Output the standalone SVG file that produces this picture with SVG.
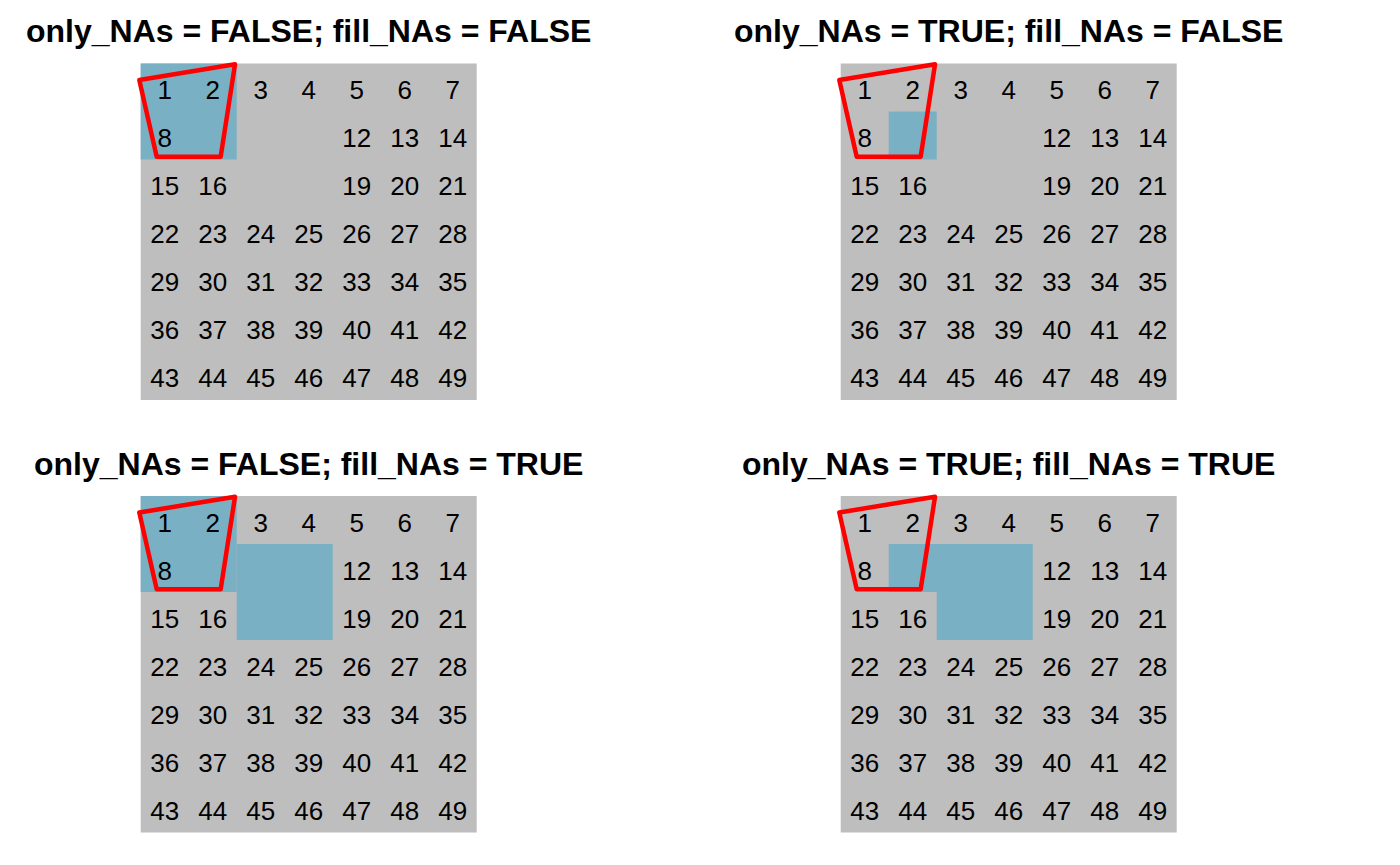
<svg xmlns="http://www.w3.org/2000/svg" width="1400" height="865" viewBox="0 0 1400 865">
<style>
.bg{fill:#BEBEBE}
.na{fill:#7AB0C4}
.t{font-family:"Liberation Sans",Arial,sans-serif;font-size:32px;font-weight:bold;text-anchor:middle;fill:#000}
.n{font-family:"Liberation Sans",Arial,sans-serif;font-size:26px;text-anchor:middle;fill:#000}
.poly{fill:none;stroke:#FF0000;stroke-width:4.5;stroke-linejoin:round}
</style>
<rect width="1400" height="865" fill="#fff"/>
<g id="panel1">
<text class="t" x="308.7" y="42.3">only_NAs = FALSE; fill_NAs = FALSE</text>
<rect class="bg" x="140.7" y="63.5" width="336" height="336.5"/>
<rect class="na" x="140.7" y="63.5" width="96" height="96"/>
<g transform="translate(0,-0.5)">
<text class="n" x="164.7" y="99.5">1</text><text class="n" x="212.7" y="99.5">2</text><text class="n" x="260.7" y="99.5">3</text><text class="n" x="308.7" y="99.5">4</text><text class="n" x="356.7" y="99.5">5</text><text class="n" x="404.7" y="99.5">6</text><text class="n" x="452.7" y="99.5">7</text>
<text class="n" x="164.7" y="147.5">8</text><text class="n" x="356.7" y="147.5">12</text><text class="n" x="404.7" y="147.5">13</text><text class="n" x="452.7" y="147.5">14</text>
<text class="n" x="164.7" y="195.5">15</text><text class="n" x="212.7" y="195.5">16</text><text class="n" x="356.7" y="195.5">19</text><text class="n" x="404.7" y="195.5">20</text><text class="n" x="452.7" y="195.5">21</text>
<text class="n" x="164.7" y="243.5">22</text><text class="n" x="212.7" y="243.5">23</text><text class="n" x="260.7" y="243.5">24</text><text class="n" x="308.7" y="243.5">25</text><text class="n" x="356.7" y="243.5">26</text><text class="n" x="404.7" y="243.5">27</text><text class="n" x="452.7" y="243.5">28</text>
<text class="n" x="164.7" y="291.5">29</text><text class="n" x="212.7" y="291.5">30</text><text class="n" x="260.7" y="291.5">31</text><text class="n" x="308.7" y="291.5">32</text><text class="n" x="356.7" y="291.5">33</text><text class="n" x="404.7" y="291.5">34</text><text class="n" x="452.7" y="291.5">35</text>
<text class="n" x="164.7" y="339.5">36</text><text class="n" x="212.7" y="339.5">37</text><text class="n" x="260.7" y="339.5">38</text><text class="n" x="308.7" y="339.5">39</text><text class="n" x="356.7" y="339.5">40</text><text class="n" x="404.7" y="339.5">41</text><text class="n" x="452.7" y="339.5">42</text>
<text class="n" x="164.7" y="387.5">43</text><text class="n" x="212.7" y="387.5">44</text><text class="n" x="260.7" y="387.5">45</text><text class="n" x="308.7" y="387.5">46</text><text class="n" x="356.7" y="387.5">47</text><text class="n" x="404.7" y="387.5">48</text><text class="n" x="452.7" y="387.5">49</text>
</g>
<polygon class="poly" points="139.3,80 235,64.3 220.7,156.7 156.7,156.7"/>
</g>
<g id="panel2" transform="translate(700,0)">
<text class="t" x="308.7" y="42.3">only_NAs = TRUE; fill_NAs = FALSE</text>
<rect class="bg" x="140.7" y="63.5" width="336" height="336.5"/>
<rect class="na" x="188.7" y="111.5" width="48" height="48"/>
<g transform="translate(0,-0.5)">
<text class="n" x="164.7" y="99.5">1</text><text class="n" x="212.7" y="99.5">2</text><text class="n" x="260.7" y="99.5">3</text><text class="n" x="308.7" y="99.5">4</text><text class="n" x="356.7" y="99.5">5</text><text class="n" x="404.7" y="99.5">6</text><text class="n" x="452.7" y="99.5">7</text>
<text class="n" x="164.7" y="147.5">8</text><text class="n" x="356.7" y="147.5">12</text><text class="n" x="404.7" y="147.5">13</text><text class="n" x="452.7" y="147.5">14</text>
<text class="n" x="164.7" y="195.5">15</text><text class="n" x="212.7" y="195.5">16</text><text class="n" x="356.7" y="195.5">19</text><text class="n" x="404.7" y="195.5">20</text><text class="n" x="452.7" y="195.5">21</text>
<text class="n" x="164.7" y="243.5">22</text><text class="n" x="212.7" y="243.5">23</text><text class="n" x="260.7" y="243.5">24</text><text class="n" x="308.7" y="243.5">25</text><text class="n" x="356.7" y="243.5">26</text><text class="n" x="404.7" y="243.5">27</text><text class="n" x="452.7" y="243.5">28</text>
<text class="n" x="164.7" y="291.5">29</text><text class="n" x="212.7" y="291.5">30</text><text class="n" x="260.7" y="291.5">31</text><text class="n" x="308.7" y="291.5">32</text><text class="n" x="356.7" y="291.5">33</text><text class="n" x="404.7" y="291.5">34</text><text class="n" x="452.7" y="291.5">35</text>
<text class="n" x="164.7" y="339.5">36</text><text class="n" x="212.7" y="339.5">37</text><text class="n" x="260.7" y="339.5">38</text><text class="n" x="308.7" y="339.5">39</text><text class="n" x="356.7" y="339.5">40</text><text class="n" x="404.7" y="339.5">41</text><text class="n" x="452.7" y="339.5">42</text>
<text class="n" x="164.7" y="387.5">43</text><text class="n" x="212.7" y="387.5">44</text><text class="n" x="260.7" y="387.5">45</text><text class="n" x="308.7" y="387.5">46</text><text class="n" x="356.7" y="387.5">47</text><text class="n" x="404.7" y="387.5">48</text><text class="n" x="452.7" y="387.5">49</text>
</g>
<polygon class="poly" points="139.3,80 235,64.3 220.7,156.7 156.7,156.7"/>
</g>
<g id="panel3" transform="translate(0,432.5)">
<text class="t" x="308.7" y="42.3">only_NAs = FALSE; fill_NAs = TRUE</text>
<rect class="bg" x="140.7" y="63.5" width="336" height="336.5"/>
<rect class="na" x="140.7" y="63.5" width="96" height="96"/>
<rect class="na" x="236.7" y="111.5" width="96" height="96"/>
<g transform="translate(0,-0.5)">
<text class="n" x="164.7" y="99.5">1</text><text class="n" x="212.7" y="99.5">2</text><text class="n" x="260.7" y="99.5">3</text><text class="n" x="308.7" y="99.5">4</text><text class="n" x="356.7" y="99.5">5</text><text class="n" x="404.7" y="99.5">6</text><text class="n" x="452.7" y="99.5">7</text>
<text class="n" x="164.7" y="147.5">8</text><text class="n" x="356.7" y="147.5">12</text><text class="n" x="404.7" y="147.5">13</text><text class="n" x="452.7" y="147.5">14</text>
<text class="n" x="164.7" y="195.5">15</text><text class="n" x="212.7" y="195.5">16</text><text class="n" x="356.7" y="195.5">19</text><text class="n" x="404.7" y="195.5">20</text><text class="n" x="452.7" y="195.5">21</text>
<text class="n" x="164.7" y="243.5">22</text><text class="n" x="212.7" y="243.5">23</text><text class="n" x="260.7" y="243.5">24</text><text class="n" x="308.7" y="243.5">25</text><text class="n" x="356.7" y="243.5">26</text><text class="n" x="404.7" y="243.5">27</text><text class="n" x="452.7" y="243.5">28</text>
<text class="n" x="164.7" y="291.5">29</text><text class="n" x="212.7" y="291.5">30</text><text class="n" x="260.7" y="291.5">31</text><text class="n" x="308.7" y="291.5">32</text><text class="n" x="356.7" y="291.5">33</text><text class="n" x="404.7" y="291.5">34</text><text class="n" x="452.7" y="291.5">35</text>
<text class="n" x="164.7" y="339.5">36</text><text class="n" x="212.7" y="339.5">37</text><text class="n" x="260.7" y="339.5">38</text><text class="n" x="308.7" y="339.5">39</text><text class="n" x="356.7" y="339.5">40</text><text class="n" x="404.7" y="339.5">41</text><text class="n" x="452.7" y="339.5">42</text>
<text class="n" x="164.7" y="387.5">43</text><text class="n" x="212.7" y="387.5">44</text><text class="n" x="260.7" y="387.5">45</text><text class="n" x="308.7" y="387.5">46</text><text class="n" x="356.7" y="387.5">47</text><text class="n" x="404.7" y="387.5">48</text><text class="n" x="452.7" y="387.5">49</text>
</g>
<polygon class="poly" points="139.3,80 235,64.3 220.7,156.7 156.7,156.7"/>
</g>
<g id="panel4" transform="translate(700,432.5)">
<text class="t" x="308.7" y="42.3">only_NAs = TRUE; fill_NAs = TRUE</text>
<rect class="bg" x="140.7" y="63.5" width="336" height="336.5"/>
<rect class="na" x="188.7" y="111.5" width="144" height="48"/>
<rect class="na" x="236.7" y="159.5" width="96" height="48"/>
<g transform="translate(0,-0.5)">
<text class="n" x="164.7" y="99.5">1</text><text class="n" x="212.7" y="99.5">2</text><text class="n" x="260.7" y="99.5">3</text><text class="n" x="308.7" y="99.5">4</text><text class="n" x="356.7" y="99.5">5</text><text class="n" x="404.7" y="99.5">6</text><text class="n" x="452.7" y="99.5">7</text>
<text class="n" x="164.7" y="147.5">8</text><text class="n" x="356.7" y="147.5">12</text><text class="n" x="404.7" y="147.5">13</text><text class="n" x="452.7" y="147.5">14</text>
<text class="n" x="164.7" y="195.5">15</text><text class="n" x="212.7" y="195.5">16</text><text class="n" x="356.7" y="195.5">19</text><text class="n" x="404.7" y="195.5">20</text><text class="n" x="452.7" y="195.5">21</text>
<text class="n" x="164.7" y="243.5">22</text><text class="n" x="212.7" y="243.5">23</text><text class="n" x="260.7" y="243.5">24</text><text class="n" x="308.7" y="243.5">25</text><text class="n" x="356.7" y="243.5">26</text><text class="n" x="404.7" y="243.5">27</text><text class="n" x="452.7" y="243.5">28</text>
<text class="n" x="164.7" y="291.5">29</text><text class="n" x="212.7" y="291.5">30</text><text class="n" x="260.7" y="291.5">31</text><text class="n" x="308.7" y="291.5">32</text><text class="n" x="356.7" y="291.5">33</text><text class="n" x="404.7" y="291.5">34</text><text class="n" x="452.7" y="291.5">35</text>
<text class="n" x="164.7" y="339.5">36</text><text class="n" x="212.7" y="339.5">37</text><text class="n" x="260.7" y="339.5">38</text><text class="n" x="308.7" y="339.5">39</text><text class="n" x="356.7" y="339.5">40</text><text class="n" x="404.7" y="339.5">41</text><text class="n" x="452.7" y="339.5">42</text>
<text class="n" x="164.7" y="387.5">43</text><text class="n" x="212.7" y="387.5">44</text><text class="n" x="260.7" y="387.5">45</text><text class="n" x="308.7" y="387.5">46</text><text class="n" x="356.7" y="387.5">47</text><text class="n" x="404.7" y="387.5">48</text><text class="n" x="452.7" y="387.5">49</text>
</g>
<polygon class="poly" points="139.3,80 235,64.3 220.7,156.7 156.7,156.7"/>
</g>
</svg>
